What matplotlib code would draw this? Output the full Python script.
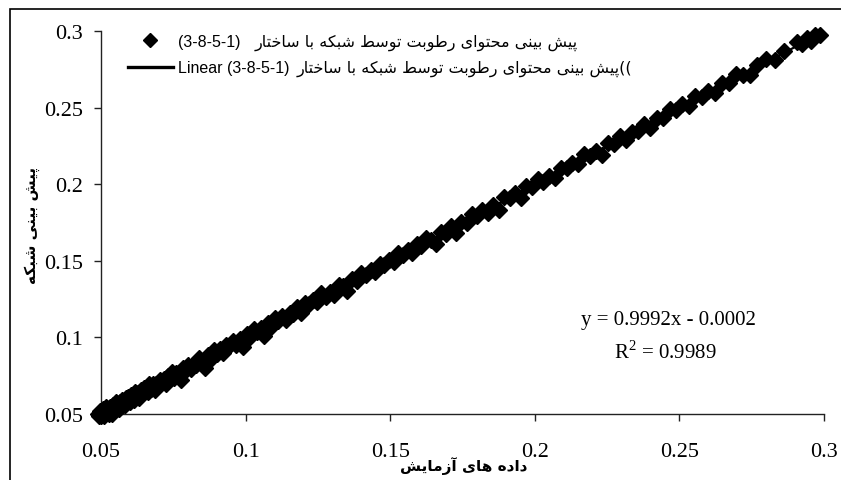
import matplotlib
matplotlib.use('Agg')
from matplotlib import pyplot as plt
from matplotlib.lines import Line2D
from matplotlib.patches import Rectangle

plt.rcParams['mathtext.fontset'] = 'custom'
plt.rcParams['mathtext.rm'] = 'Liberation Serif'

# measured moisture content (experiment) vs network prediction, structure 3-8-5-1
exp_vals = [
    0.0490, 0.0494, 0.0498, 0.0501, 0.0504, 0.0507, 0.0510, 0.0513, 0.0516, 0.0519,
    0.0522, 0.0525, 0.0528, 0.0531, 0.0534, 0.0537, 0.0540, 0.0543, 0.0546, 0.0549,
    0.0552, 0.0555, 0.0558, 0.0561, 0.0564, 0.0567, 0.0571, 0.0575, 0.0579, 0.0583,
    0.0587, 0.0591, 0.0595, 0.0599,
    0.0603, 0.0607, 0.0611, 0.0615, 0.0619, 0.0624, 0.0628, 0.0633, 0.0637, 0.0642,
    0.0647, 0.0652, 0.0657, 0.0662, 0.0667, 0.0673, 0.0679, 0.0685, 0.0691, 0.0697,
    0.0703, 0.0710, 0.0717, 0.0724, 0.0731, 0.0738, 0.0745, 0.0753, 0.0761, 0.0769,
    0.0777, 0.0785, 0.0793, 0.0802, 0.0811, 0.0820, 0.0830, 0.0840, 0.0850, 0.0860,
    0.0870, 0.0880, 0.0890, 0.0900, 0.0911, 0.0922, 0.0933, 0.0944, 0.0956, 0.0968,
    0.0980, 0.0992,
    0.1004, 0.1016, 0.1028, 0.1040, 0.1052, 0.1064, 0.1076, 0.1088, 0.1100, 0.1113,
    0.1126, 0.1139, 0.1152, 0.1165, 0.1178, 0.1192, 0.1206, 0.1220, 0.1234, 0.1248,
    0.1262, 0.1277, 0.1292, 0.1307, 0.1322, 0.1337, 0.1352, 0.1368, 0.1384, 0.1400,
    0.1416, 0.1432, 0.1448, 0.1464, 0.1480, 0.1496,
    0.1512, 0.1528, 0.1544, 0.1560, 0.1576, 0.1592, 0.1608, 0.1625, 0.1642, 0.1659,
    0.1676, 0.1693, 0.1710, 0.1728, 0.1746, 0.1764, 0.1782, 0.1800, 0.1818, 0.1837,
    0.1856, 0.1875, 0.1894, 0.1913, 0.1932, 0.1951, 0.1970, 0.1990,
    0.2010, 0.2030, 0.2050, 0.2070, 0.2090, 0.2110, 0.2130, 0.2150, 0.2170, 0.2190,
    0.2210, 0.2231, 0.2252, 0.2273, 0.2294, 0.2315, 0.2336, 0.2357, 0.2378, 0.2400,
    0.2422, 0.2444, 0.2466, 0.2488,
    0.2510, 0.2532, 0.2555, 0.2578, 0.2600, 0.2624, 0.2648, 0.2672, 0.2696, 0.2720,
    0.2745, 0.2770, 0.2800, 0.2830, 0.2860, 0.2905, 0.2925, 0.2940, 0.2955, 0.2970,
    0.2985,
]
net_vals = [
    0.0502, 0.0486, 0.0518, 0.0486, 0.0510, 0.0531, 0.0488, 0.0523, 0.0510, 0.0547,
    0.0504, 0.0529, 0.0498, 0.0548, 0.0525, 0.0499, 0.0561, 0.0539, 0.0557, 0.0529,
    0.0578, 0.0543, 0.0565, 0.0534, 0.0579, 0.0564, 0.0593, 0.0559, 0.0588, 0.0558,
    0.0605, 0.0584, 0.0608, 0.0580,
    0.0623, 0.0597, 0.0616, 0.0591, 0.0646, 0.0619, 0.0640, 0.0602, 0.0656, 0.0629,
    0.0671, 0.0650, 0.0667, 0.0641, 0.0697, 0.0665, 0.0695, 0.0659, 0.0699, 0.0683,
    0.0725, 0.0707, 0.0730, 0.0695, 0.0749, 0.0728, 0.0771, 0.0736, 0.0767, 0.0746,
    0.0722, 0.0800, 0.0787, 0.0823, 0.0793, 0.0829, 0.0818, 0.0865, 0.0846, 0.0800,
    0.0884, 0.0859, 0.0918, 0.0891, 0.0922, 0.0897, 0.0952, 0.0942, 0.0979, 0.0953,
    0.0987, 0.0940,
    0.1020, 0.1005, 0.1052, 0.1034, 0.1061, 0.1006, 0.1096, 0.1069, 0.1127, 0.1105,
    0.1138, 0.1115, 0.1157, 0.1151, 0.1199, 0.1162, 0.1223, 0.1216, 0.1244, 0.1228,
    0.1287, 0.1265, 0.1298, 0.1280, 0.1341, 0.1334, 0.1302, 0.1381, 0.1368, 0.1422,
    0.1407, 0.1440, 0.1426, 0.1480, 0.1474, 0.1507,
    0.1494, 0.1551, 0.1539, 0.1569, 0.1550, 0.1609, 0.1597, 0.1651, 0.1639, 0.1607,
    0.1688, 0.1673, 0.1729, 0.1680, 0.1753, 0.1749, 0.1806, 0.1792, 0.1832, 0.1814,
    0.1866, 0.1830, 0.1914, 0.1909, 0.1940, 0.1911, 0.1986, 0.1980,
    0.2031, 0.2016, 0.2056, 0.2042, 0.2108, 0.2108, 0.2141, 0.2129, 0.2195, 0.2181,
    0.2217, 0.2189, 0.2267, 0.2260, 0.2314, 0.2291, 0.2340, 0.2350, 0.2395, 0.2367,
    0.2432, 0.2429, 0.2488, 0.2483,
    0.2522, 0.2512, 0.2573, 0.2570, 0.2606, 0.2594, 0.2663, 0.2660, 0.2717, 0.2716,
    0.2710, 0.2780, 0.2816, 0.2808, 0.2868, 0.2925, 0.2915, 0.2955, 0.2937, 0.2975,
    0.2973,
]

# trendline from the fitted equation
slope = 0.9992
intercept = -0.0002
r_squared = 0.9989

ticks = [0.05, 0.1, 0.15, 0.2, 0.25, 0.3]
tick_labels = ['0.05', '0.1', '0.15', '0.2', '0.25', '0.3']

series_name = 'پیش بینی محتوای رطوبت توسط شبکه با ساختار'
structure = '(3-8-5-1)'
x_title = 'داده های آزمایش'
y_title = 'پیش بینی شبکه'

# matplotlib has no arabic shaping, so pick presentation forms by hand
# (isolated, final, initial, medial); None = letter does not join forward
FORMS = {
    'ا': ('\uFE8D', '\uFE8E', None, None),
    'آ': ('\uFE81', '\uFE82', None, None),
    'ب': ('\uFE8F', '\uFE90', '\uFE91', '\uFE92'),
    'پ': ('\uFB56', '\uFB57', '\uFB58', '\uFB59'),
    'ت': ('\uFE95', '\uFE96', '\uFE97', '\uFE98'),
    'ح': ('\uFEA1', '\uFEA2', '\uFEA3', '\uFEA4'),
    'خ': ('\uFEA5', '\uFEA6', '\uFEA7', '\uFEA8'),
    'د': ('\uFEA9', '\uFEAA', None, None),
    'ر': ('\uFEAD', '\uFEAE', None, None),
    'ز': ('\uFEAF', '\uFEB0', None, None),
    'س': ('\uFEB1', '\uFEB2', '\uFEB3', '\uFEB4'),
    'ش': ('\uFEB5', '\uFEB6', '\uFEB7', '\uFEB8'),
    'ط': ('\uFEC1', '\uFEC2', '\uFEC3', '\uFEC4'),
    'ک': ('\uFB8E', '\uFB8F', '\uFB90', '\uFB91'),
    'م': ('\uFEE1', '\uFEE2', '\uFEE3', '\uFEE4'),
    'ن': ('\uFEE5', '\uFEE6', '\uFEE7', '\uFEE8'),
    'ه': ('\uFEE9', '\uFEEA', '\uFEEB', '\uFEEC'),
    'و': ('\uFEED', '\uFEEE', None, None),
    'ی': ('\uFBFC', '\uFBFD', '\uFBFE', '\uFBFF'),
}


def rtl(text):
    out = []
    for i, ch in enumerate(text):
        if ch not in FORMS:
            out.append(ch)
            continue
        prev = text[i - 1] if i > 0 else ''
        nxt = text[i + 1] if i + 1 < len(text) else ''
        join_prev = prev in FORMS and FORMS[prev][2] is not None
        join_next = FORMS[ch][2] is not None and nxt in FORMS
        iso, fin, ini, med = FORMS[ch]
        if join_prev and join_next:
            out.append(med)
        elif join_prev:
            out.append(fin)
        elif join_next:
            out.append(ini)
        else:
            out.append(iso)
    return ''.join(reversed(out))


W, H = 841, 481
fig = plt.figure(figsize=(W / 100, H / 100), dpi=100)
ax = fig.add_axes([101 / W, 1 - 415 / H, 723 / W, 383 / H])

ax.plot(exp_vals, net_vals, linestyle='none', marker='D', markersize=8,
        color='black', clip_on=False, zorder=3)
x0, x1 = min(exp_vals), max(exp_vals)
ax.plot([x0, x1], [slope * x0 + intercept, slope * x1 + intercept],
        color='black', linewidth=1.6, zorder=4)

ax.set_xlim(0.05, 0.3)
ax.set_ylim(0.05, 0.3)
ax.set_xticks(ticks)
ax.set_xticklabels(tick_labels)
ax.set_yticks(ticks)
ax.set_yticklabels(tick_labels)
for side in ['top', 'right']:
    ax.spines[side].set_visible(False)
for side in ['left', 'bottom']:
    ax.spines[side].set_linewidth(1.0)
    ax.spines[side].set_color('#222222')
ax.tick_params(axis='both', direction='out', length=5, width=1.0, color='#222222',
               labelsize=16, labelfontfamily='Liberation Serif')
ax.tick_params(axis='y', pad=8)
ax.tick_params(axis='x', pad=15.5)

fig.text(464 / W, 1 - 466 / H, rtl(x_title), ha='center', va='center',
         fontsize=11, fontweight='bold', family=['DejaVu Sans'])
fig.text(32 / W, 1 - 225 / H, rtl(y_title), ha='center', va='center',
         rotation=90, fontsize=11, fontweight='bold', family=['DejaVu Sans'])

eq = 'y = %.4fx - %.4f' % (slope, abs(intercept))
fig.text(668 / W, 1 - 321 / H, eq, ha='center', va='center',
         fontsize=15, family='Liberation Serif')
fig.text(665 / W, 1 - 353 / H, r'R$^{\mathrm{2}}$ = %.4f' % r_squared,
         ha='center', va='center', fontsize=15, family='Liberation Serif')

# legend: handles + latin part, the persian part follows each latin label
handles = [
    Line2D([], [], linestyle='none', marker='D', markersize=7, color='black'),
    Line2D([], [], color='black', linewidth=2.4),
]
leg = fig.legend(handles, [structure, 'Linear ' + structure], loc='upper left',
                 bbox_to_anchor=(128 / W, 1 - 35 / H), frameon=False,
                 borderpad=0, borderaxespad=0, handlelength=2.8, handletextpad=0.35,
                 labelspacing=0.72,
                 prop={'family': 'Liberation Sans', 'size': 11.5})

fig.canvas.draw()
persian_labels = [rtl(series_name), rtl(series_name) + '((']
gaps = [14, 7]
for txt, label, gap in zip(leg.get_texts(), persian_labels, gaps):
    bb = txt.get_window_extent()
    fig.text((bb.x1 + gap) / W, (bb.y0 + bb.y1) / 2 / H, label,
             ha='left', va='center', fontsize=11.5, family=['DejaVu Sans'])

# outer chart frame
fig.add_artist(Rectangle((10 / W, -0.1), 1.2, 1.1 - 10 / H, fill=False,
                         edgecolor='black', linewidth=1.2,
                         transform=fig.transFigure))

plt.savefig('out.png', dpi=100)
